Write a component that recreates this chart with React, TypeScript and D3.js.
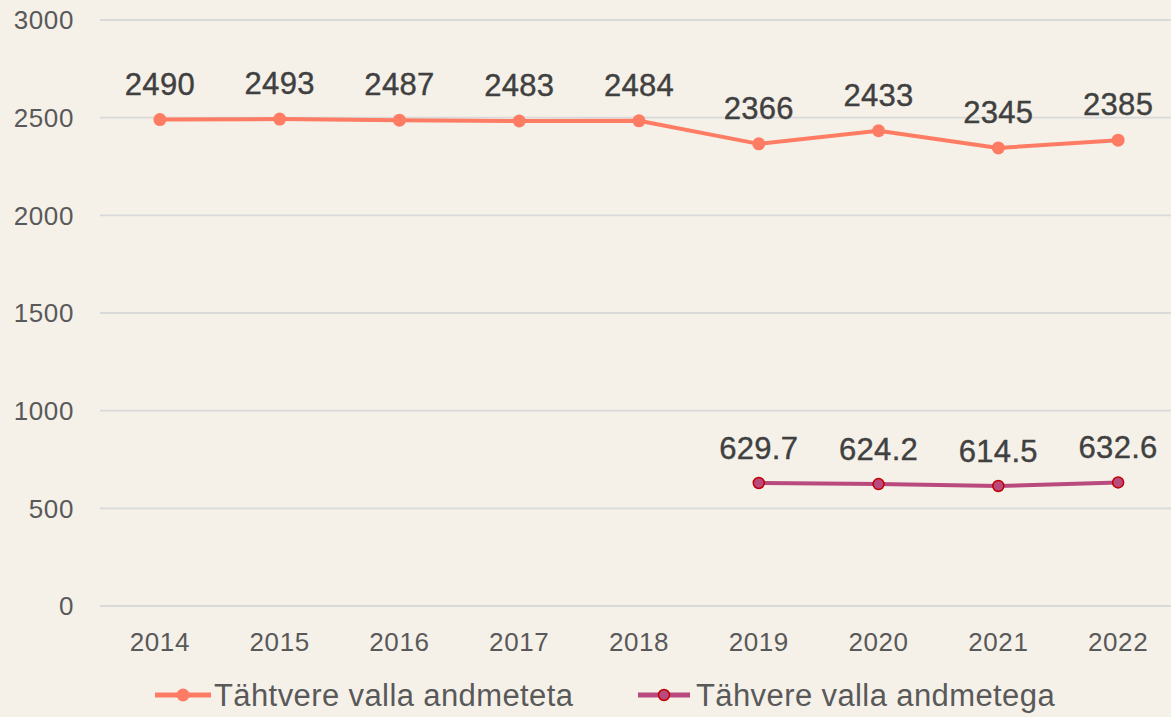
import React from 'react';
import * as d3 from 'd3';

/* ─── Data ─── */
const YEARS = ['2014', '2015', '2016', '2017', '2018', '2019', '2020', '2021', '2022'];
const WITHOUT_DATA: (number | null)[] = [2490, 2493, 2487, 2483, 2484, 2366, 2433, 2345, 2385];
const WITH_DATA: (number | null)[] = [null, null, null, null, null, 629.7, 624.2, 614.5, 632.6];
const Y_TICKS = [0, 500, 1000, 1500, 2000, 2500, 3000];
const SERIES_NAMES = ['Tähtvere valla andmeteta', 'Tähvere valla andmetega'];

/* ─── Style ─── */
const W = 1171;
const H = 717;
const COLORS = {
    bg: '#f5f1e9',
    grid: '#d9d9d9',
    tick: '#595959',
    label: '#404040',
    line1: '#ff7c64',
    line2: '#ba4a7e',
    marker2Stroke: '#c00000',
};
const FONT = "'Liberation Sans', Arial, sans-serif";

export default function App() {
    const x = d3.scaleBand<string>().domain(YEARS).range([100, 1178]);
    const y = d3.scaleLinear().domain([0, 3000]).range([606, 20]);
    const cx = (d: string) => (x(d) as number) + x.bandwidth() / 2;

    const line = d3.line<{ year: string; v: number | null }>()
        .defined(d => d.v != null)
        .x(d => cx(d.year))
        .y(d => y(d.v as number));

    const s1 = YEARS.map((year, i) => ({ year, v: WITHOUT_DATA[i] }));
    const s2 = YEARS.map((year, i) => ({ year, v: WITH_DATA[i] }));

    const fmt = (v: number) => (Number.isInteger(v) ? String(v) : v.toFixed(1));

    return (
        <div style={{ position: 'fixed', left: 0, top: 0 }}>
            <svg width={W} height={H} style={{ display: 'block', background: COLORS.bg, fontFamily: FONT }}>
                <rect width={W} height={H} fill={COLORS.bg} />

                {/* grid + y ticks */}
                {Y_TICKS.map(t => (
                    <g key={t}>
                        <line x1={100} x2={W} y1={y(t)} y2={y(t)} stroke={COLORS.grid} strokeWidth={1.8} />
                        <text x={74} y={y(t)} dy="0.36em" textAnchor="end" fontSize={26} letterSpacing={0.6} fill={COLORS.tick}>{t}</text>
                    </g>
                ))}

                {/* x ticks */}
                {YEARS.map(yr => (
                    <text key={yr} x={cx(yr)} y={651} textAnchor="middle" fontSize={26} letterSpacing={0.6} fill={COLORS.tick}>{yr}</text>
                ))}

                {/* series 1 */}
                <path d={line(s1) || ''} fill="none" stroke={COLORS.line1} strokeWidth={4} strokeLinejoin="round" />
                {s1.filter(d => d.v != null).map(d => (
                    <g key={d.year}>
                        <circle cx={cx(d.year)} cy={y(d.v as number)} r={6.5} fill={COLORS.line1} />
                        <text x={cx(d.year)} y={y(d.v as number) - 25} textAnchor="middle" fontSize={31} letterSpacing={0.3}
                            fill={COLORS.label} stroke={COLORS.label} strokeWidth={0.4}>{fmt(d.v as number)}</text>
                    </g>
                ))}

                {/* series 2 */}
                <path d={line(s2) || ''} fill="none" stroke={COLORS.line2} strokeWidth={4} strokeLinejoin="round" />
                {s2.filter(d => d.v != null).map(d => (
                    <g key={d.year}>
                        <circle cx={cx(d.year)} cy={y(d.v as number)} r={5.5} fill={COLORS.line2} stroke={COLORS.marker2Stroke} strokeWidth={1.5} />
                        <text x={cx(d.year)} y={y(d.v as number) - 24} textAnchor="middle" fontSize={31} letterSpacing={0.3}
                            fill={COLORS.label} stroke={COLORS.label} strokeWidth={0.4}>{fmt(d.v as number)}</text>
                    </g>
                ))}

                {/* legend */}
                <g transform="translate(155,695)">
                    <line x1={0} x2={56} y1={0} y2={0} stroke={COLORS.line1} strokeWidth={5} />
                    <circle cx={28} cy={0} r={6.5} fill={COLORS.line1} />
                    <text x={59} y={0} dy="0.36em" fontSize={31} letterSpacing={0.4} fill={COLORS.tick}>{SERIES_NAMES[0]}</text>
                </g>
                <g transform="translate(638,695)">
                    <line x1={0} x2={52} y1={0} y2={0} stroke={COLORS.line2} strokeWidth={5} />
                    <circle cx={26} cy={0} r={5.5} fill={COLORS.line2} stroke={COLORS.marker2Stroke} strokeWidth={1.5} />
                    <text x={58} y={0} dy="0.36em" fontSize={31} letterSpacing={0.4} fill={COLORS.tick}>{SERIES_NAMES[1]}</text>
                </g>
            </svg>
        </div>
    );
}
